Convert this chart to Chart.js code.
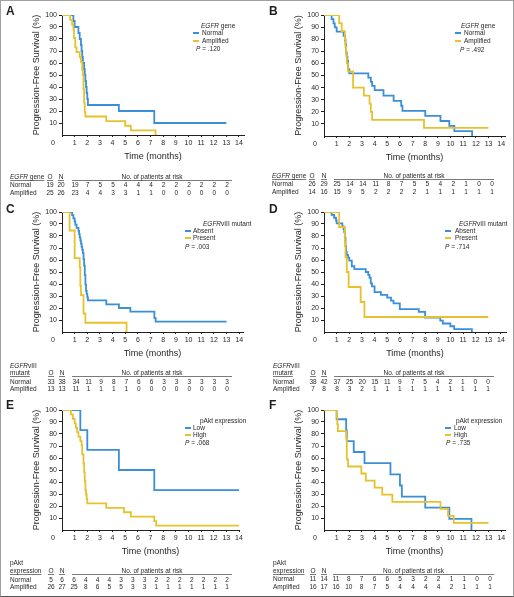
<!DOCTYPE html>
<html>
<head>
<meta charset="utf-8">
<script src="https://cdn.jsdelivr.net/npm/chart.js@4.4.0/dist/chart.umd.min.js"></script>
<style>
html, body { margin: 0; padding: 0; background: #fff; }
#fig { position: relative; width: 514px; height: 597px; overflow: hidden; }
#fig canvas { position: absolute; }
#frame { position: absolute; left: 0; top: 0; width: 514px; height: 597px; box-sizing: border-box;
  border: 1px solid #a0a0a0; border-bottom-color: #555; pointer-events: none; }
</style>
</head>
<body>
<div id="fig">
  <canvas id="cA" width="257" height="200" style="left:0;top:0"></canvas>
  <canvas id="cB" width="257" height="200" style="left:257px;top:0"></canvas>
  <canvas id="cC" width="257" height="200" style="left:0;top:195px"></canvas>
  <canvas id="cD" width="257" height="200" style="left:257px;top:195px"></canvas>
  <canvas id="cE" width="257" height="207" style="left:0;top:390px"></canvas>
  <canvas id="cF" width="257" height="207" style="left:257px;top:390px"></canvas>
  <div id="frame"></div>
</div>
<script>
// ---- data ----
const timeTicks = [0, 1, 2, 3, 4, 5, 6, 7, 8, 9, 10, 11, 12, 13, 14];
const survTicks = [10, 20, 30, 40, 50, 60, 70, 80, 90, 100];
const rowNames = ["Normal", "Amplified"];

// A - EGFR gene
const aNormT = [0, 0.9, 1.0, 1.3, 1.4, 1.5, 1.55, 1.6, 1.65, 1.75, 1.8, 1.85, 1.9, 1.95, 2.0, 2.05, 4.5, 7.3, 13];
const aNormS = [100, 95, 90, 85, 80, 75, 70, 65, 60, 55, 50, 45, 40, 35, 30, 25, 20, 10, 10];
const aAmpT = [0, 0.65, 0.8, 0.9, 0.95, 1.05, 1.15, 1.4, 1.5, 1.6, 1.65, 1.7, 1.75, 1.8, 1.85, 3.5, 5.0, 5.45, 7.4];
const aAmpS = [100, 96, 92, 88, 81, 73, 69, 65, 61, 54, 50, 38, 27, 19, 15.4, 11.5, 7.7, 3.8, 0];
const aNormRisk = [19, 7, 5, 5, 4, 4, 4, 2, 2, 2, 2, 2, 2];
const aAmpRisk = [23, 4, 4, 3, 3, 1, 1, 0, 0, 0, 0, 0, 0];
const aNormON = [19, 20];
const aAmpON = [25, 26];
const aP = ".120";

// B - EGFR gene
const bNormT = [0, 0.6, 0.75, 0.85, 1.0, 1.55, 1.65, 1.7, 1.75, 1.8, 1.85, 1.9, 2.0, 3.5, 3.7, 3.8, 4.0, 4.7, 5.5, 6.1, 6.2, 8.0, 9.2, 9.9, 10.3, 11.7];
const bNormS = [100, 96.6, 93.1, 89.7, 86.2, 82.8, 79.3, 75.9, 69, 65.5, 62, 55.2, 51.7, 48.3, 44.8, 41.4, 37.9, 33.3, 29, 25, 20.7, 16.6, 12.4, 8.3, 4.1, 0];
const bAmpT = [0, 1.2, 1.4, 1.65, 1.7, 1.75, 1.8, 1.9, 2.3, 3.15, 3.6, 3.7, 3.8, 7.9, 13];
const bAmpS = [100, 93.3, 86.7, 80, 73.3, 66.7, 60, 53.3, 40, 33.3, 26.7, 20, 13.3, 6.7, 6.7];
const bNormRisk = [25, 14, 14, 11, 8, 7, 5, 5, 4, 2, 1, 0, 0];
const bAmpRisk = [15, 9, 5, 2, 2, 2, 2, 1, 1, 1, 1, 1, 1];
const bNormON = [26, 29];
const bAmpON = [14, 16];
const bP = ".492";

// C - EGFRvIII mutant
const cAbsT = [0, 0.8, 0.9, 1.0, 1.05, 1.15, 1.3, 1.35, 1.4, 1.45, 1.5, 1.55, 1.6, 1.65, 1.7, 1.75, 1.8, 1.85, 1.9, 1.95, 2.0, 2.05, 3.5, 4.5, 5.4, 7.3, 7.4, 13];
const cAbsS = [100, 97.4, 94.7, 92.1, 89.5, 86.8, 84.2, 81.6, 78.9, 76.3, 73.7, 71, 68.4, 65.8, 60.5, 55.3, 47.4, 39.5, 34.2, 31.6, 28.9, 26.3, 23, 20, 17, 11.5, 8.6, 8.6];
const cPresT = [0, 0.6, 1.0, 1.4, 1.45, 1.5, 1.7, 1.85, 5.1];
const cPresS = [100, 84.6, 61.5, 53.8, 38.5, 30.8, 15.4, 7.7, 0];
const cNormRisk = [34, 11, 9, 8, 7, 6, 6, 3, 3, 3, 3, 3, 3];
const cAmpRisk = [11, 1, 1, 1, 1, 0, 0, 0, 0, 0, 0, 0, 0];
const cNormON = [33, 38];
const cAmpON = [13, 13];
const cP = ".003";

// D - EGFRvIII mutant
const dAbsT = [0, 0.6, 0.8, 0.95, 1.0, 1.45, 1.55, 1.6, 1.65, 1.7, 1.75, 1.8, 1.9, 2.0, 2.2, 2.4, 3.3, 3.5, 3.6, 3.7, 3.8, 4.0, 4.5, 5.0, 5.3, 5.5, 6.0, 7.5, 8.0, 9.2, 9.4, 10.0, 10.3, 11.7];
const dAbsS = [100, 97.6, 95.2, 92.9, 90.5, 88.1, 85.7, 83.3, 78.6, 71.4, 66.7, 64.3, 61.9, 59.5, 54.8, 52.4, 50, 47.6, 45.2, 40.5, 38.1, 33.3, 31, 28.6, 26.2, 23.8, 19, 16.7, 11.9, 9.5, 7.1, 4.8, 2.4, 0];
const dPresT = [0, 1.2, 1.65, 1.7, 1.8, 1.95, 2.9, 3.2, 13];
const dPresS = [100, 87.5, 75, 62.5, 50, 37.5, 25, 12.5, 12.5];
const dNormRisk = [37, 25, 20, 15, 11, 9, 7, 5, 4, 2, 1, 0, 0];
const dAmpRisk = [8, 3, 2, 1, 1, 1, 1, 1, 1, 1, 1, 1, 1];
const dNormON = [38, 42];
const dAmpON = [7, 8];
const dP = ".714";

// E - pAkt expression
const eLowT = [0, 1.45, 2.0, 4.5, 7.3, 14];
const eLowS = [100, 83.3, 66.7, 50, 33.3, 33.3];
const eHighT = [0, 0.7, 0.85, 1.0, 1.1, 1.2, 1.3, 1.45, 1.55, 1.6, 1.7, 1.75, 1.8, 1.85, 1.9, 1.95, 2.0, 3.5, 4.9, 5.45, 7.3, 7.45, 14];
const eHighS = [100, 96.3, 92.6, 88.9, 85.2, 81.5, 77.8, 74.1, 70.4, 63, 55.6, 48.1, 40.7, 33.3, 29.6, 25.9, 22.2, 18.5, 14.8, 11.1, 7.4, 3.7, 3.7];
const eNormRisk = [6, 4, 4, 4, 3, 3, 3, 2, 2, 2, 2, 2, 2, 2];
const eAmpRisk = [25, 8, 6, 5, 5, 3, 3, 1, 1, 1, 1, 1, 1, 1];
const eNormON = [5, 6];
const eAmpON = [26, 27];
const eP = ".068";

// F - pAkt expression
const fLowT = [0, 1.0, 1.75, 1.8, 2.35, 3.2, 5.25, 6.0, 6.15, 8.0, 9.9, 11.65];
const fLowS = [100, 92.3, 83, 74, 65, 55.7, 46.4, 37.1, 27.8, 18.6, 9.3, 0];
const fHighT = [0, 1.0, 1.05, 1.1, 1.75, 1.8, 1.9, 2.95, 3.3, 4.0, 4.6, 5.4, 9.2, 9.8, 10.25, 13];
const fHighS = [100, 94.1, 88.2, 82.4, 76.5, 58.8, 52.9, 47.1, 41.2, 35.3, 29.4, 23.5, 17.6, 11.8, 5.9, 5.9];
const fNormRisk = [11, 8, 7, 6, 6, 5, 3, 2, 2, 1, 1, 0, 0];
const fAmpRisk = [16, 10, 8, 7, 5, 4, 4, 4, 4, 2, 1, 1, 1];
const fNormON = [11, 14];
const fAmpON = [16, 17];
const fP = ".735";

// ---- styles ----
const FONT = '"Liberation Sans", Arial, sans-serif';
const INK = "#231f20";
const BLUE = "#3b8fd8";
const YELLOW = "#e5c22e";

function xy(t, s) {
  return t.map((v, i) => ({ x: v, y: s[i] }));
}

// draw text made of plain / italic pieces, returns end x
function rich(ctx, parts, x, y, size) {
  let cx = x;
  parts.forEach(([txt, it]) => {
    ctx.font = (it ? "italic " : "") + size + "px " + FONT;
    ctx.fillText(txt, cx, y);
    cx += ctx.measureText(txt).width;
  });
  return cx;
}

const kmPlugin = {
  id: "km",
  afterDraw(chart, args, o) {
    const ctx = chart.ctx;
    const ca = chart.chartArea;
    ctx.save();
    ctx.fillStyle = INK;
    ctx.strokeStyle = INK;
    ctx.textBaseline = "middle";

    // panel letter
    ctx.textAlign = "left";
    ctx.font = "bold 12px " + FONT;
    ctx.fillText(o.letter, o.letterX, o.letterY);

    // shared zero at the corner
    ctx.textAlign = "center";
    ctx.font = "7px " + FONT;
    ctx.fillText("0", ca.left - 9, ca.bottom + 8);

    // legend
    const lg = o.legend;
    ctx.textAlign = "left";
    rich(ctx, lg.title, lg.titleX, lg.titleY, 6.5);
    [BLUE, YELLOW].forEach((c, i) => {
      ctx.strokeStyle = c;
      ctx.lineWidth = 2;
      ctx.beginPath();
      ctx.moveTo(lg.lineX, lg.itemY[i]);
      ctx.lineTo(lg.lineX + 6, lg.itemY[i]);
      ctx.stroke();
      ctx.font = "6.5px " + FONT;
      ctx.fillText(lg.items[i], lg.textX, lg.itemY[i]);
    });
    rich(ctx, [["P", true], [" = " + o.p, false]], lg.pX, lg.pY, 6.5);

    // risk table
    const r = o.risk;
    ctx.strokeStyle = INK;
    ctx.lineWidth = 0.6;
    let ri = 0;
    if (r.head.length === 2) {
      rich(ctx, r.head[0], r.labelX, r.rows[0], 6.5);
      ri = 1;
    }
    const hy = r.rows[ri];
    const uy = hy + 3.5;
    const endL = rich(ctx, r.head[r.head.length - 1], r.labelX, hy, 6.5);
    const underline = (x1, x2) => {
      ctx.beginPath();
      ctx.moveTo(x1, uy);
      ctx.lineTo(x2, uy);
      ctx.stroke();
    };
    underline(r.labelX, endL);
    ctx.font = "6.5px " + FONT;
    ctx.textAlign = "center";
    ctx.fillText("O", r.oX, hy);
    ctx.fillText("N", r.nX, hy);
    underline(r.oX - 3, r.oX + 3);
    underline(r.nX - 3, r.nX + 3);
    ctx.fillText("No. of patients at risk", (r.lineX1 + r.lineX2) / 2, hy);
    underline(r.lineX1, r.lineX2);

    const body = [[o.normON, o.normRisk], [o.ampON, o.ampRisk]];
    body.forEach(([on, vals], k) => {
      const y = r.rows[ri + 1 + k];
      ctx.textAlign = "left";
      ctx.fillText(rowNames[k], r.labelX, y);
      ctx.textAlign = "center";
      ctx.fillText(String(on[0]), r.oX, y);
      ctx.fillText(String(on[1]), r.nX, y);
      const step = (r.lastX - r.firstX) / (vals.length - 1);
      vals.forEach((v, j) => ctx.fillText(String(v), r.firstX + j * step, y));
    });
    ctx.restore();
  }
};

function makePanel(id, g, series, extra) {
  const el = document.getElementById(id);
  const W = el.width, H = el.height;
  const xScaleH = 27;
  new Chart(el, {
    type: "line",
    data: {
      datasets: series.map(([t, s], i) => ({
        data: xy(t, s),
        borderColor: i === 0 ? BLUE : YELLOW,
        borderWidth: 1.8,
        pointRadius: 0,
        stepped: true,
        fill: false
      })).reverse()
    },
    options: {
      responsive: false,
      animation: false,
      events: [],
      layout: { padding: { left: 0, top: g.T, right: W - g.R, bottom: H - g.B - xScaleH } },
      scales: {
        x: {
          type: "linear",
          min: 0,
          max: g.xMax,
          afterBuildTicks: s => { s.ticks = timeTicks.map(v => ({ value: v })); },
          afterFit: s => { s.height = xScaleH; },
          grid: { drawOnChartArea: false, tickLength: 2, color: INK },
          border: { color: INK, width: 1 },
          ticks: {
            font: { family: FONT, size: 7 }, color: INK, padding: 2,
            maxRotation: 0, autoSkip: false,
            callback: v => (v === 0 ? "" : v)
          },
          title: {
            display: true, text: "Time (months)", color: INK,
            font: { family: FONT, size: 9 }, padding: { top: 0, bottom: 0 }
          }
        },
        y: {
          min: 0,
          max: 100,
          afterBuildTicks: s => { s.ticks = survTicks.map(v => ({ value: v })); },
          afterFit: s => { s.width = g.L; },
          grid: { drawOnChartArea: false, tickLength: 3, color: INK },
          border: { color: INK, width: 1 },
          ticks: { font: { family: FONT, size: 7 }, color: INK, padding: 2 },
          title: {
            display: true, text: "Progression-Free Survival (%)", color: INK,
            font: { family: FONT, size: 9 }, padding: { top: g.yTitle - 5.4, bottom: 0 }
          }
        }
      },
      plugins: {
        legend: { display: false },
        tooltip: { enabled: false },
        km: extra
      }
    },
    plugins: [kmPlugin]
  });
}

const egfrTitle = [["EGFR", true], [" gene", false]];
const vIIITitle = [["EGFR", true], ["vIII mutant", false]];
const aktTitle = [["pAkt expression", false]];

makePanel("cA", { L: 62, T: 15, B: 135, R: 244, xMax: 14.4, yTitle: 37 },
  [[aNormT, aNormS], [aAmpT, aAmpS]], {
    letter: "A", letterX: 6, letterY: 12, p: aP,
    normRisk: aNormRisk, ampRisk: aAmpRisk, normON: aNormON, ampON: aAmpON,
    legend: { title: egfrTitle, titleX: 201, titleY: 26, items: ["Normal", "Amplified"], itemY: [33, 41], lineX: 193, textX: 202, pX: 196, pY: 49 },
    risk: { head: [egfrTitle], rows: [177, 185, 193], labelX: 10, oX: 50, nX: 61, firstX: 75, lastX: 227, lineX1: 72, lineX2: 232 }
  });

makePanel("cB", { L: 67, T: 15, B: 136, R: 248, xMax: 14.3, yTitle: 42 },
  [[bNormT, bNormS], [bAmpT, bAmpS]], {
    letter: "B", letterX: 12, letterY: 12, p: bP,
    normRisk: bNormRisk, ampRisk: bAmpRisk, normON: bNormON, ampON: bAmpON,
    legend: { title: egfrTitle, titleX: 204, titleY: 26, items: ["Normal", "Amplified"], itemY: [33, 41], lineX: 198, textX: 207, pX: 203, pY: 50 },
    risk: { head: [egfrTitle], rows: [176, 184, 192], labelX: 15, oX: 55, nX: 67, firstX: 80, lastX: 235, lineX1: 77, lineX2: 237 }
  });

makePanel("cC", { L: 62, T: 17, B: 137, R: 243, xMax: 14.3, yTitle: 37 },
  [[cAbsT, cAbsS], [cPresT, cPresS]], {
    letter: "C", letterX: 6, letterY: 15, p: cP,
    normRisk: cNormRisk, ampRisk: cAmpRisk, normON: cNormON, ampON: cAmpON,
    legend: { title: vIIITitle, titleX: 203, titleY: 29, items: ["Absent", "Present"], itemY: [36, 43], lineX: 185, textX: 193, pX: 185, pY: 52 },
    risk: { head: [[["EGFR", true], ["vIII", false]], [["mutant", false]]], rows: [171, 178, 187, 194], labelX: 10, oX: 51, nX: 62, firstX: 76, lastX: 227, lineX1: 72, lineX2: 232 }
  });

makePanel("cD", { L: 67, T: 17, B: 137, R: 249, xMax: 14.4, yTitle: 42 },
  [[dAbsT, dAbsS], [dPresT, dPresS]], {
    letter: "D", letterX: 12, letterY: 15, p: dP,
    normRisk: dNormRisk, ampRisk: dAmpRisk, normON: dNormON, ampON: dAmpON,
    legend: { title: vIIITitle, titleX: 202, titleY: 29, items: ["Absent", "Present"], itemY: [36, 43], lineX: 188, textX: 198, pX: 188, pY: 52 },
    risk: { head: [[["EGFR", true], ["vIII", false]], [["mutant", false]]], rows: [171, 178, 187, 194], labelX: 16, oX: 56, nX: 67, firstX: 80, lastX: 231, lineX1: 77, lineX2: 237 }
  });

makePanel("cE", { L: 62, T: 20, B: 140, R: 239, xMax: 14, yTitle: 37 },
  [[eLowT, eLowS], [eHighT, eHighS]], {
    letter: "E", letterX: 6, letterY: 16, p: eP,
    normRisk: eNormRisk, ampRisk: eAmpRisk, normON: eNormON, ampON: eAmpON,
    legend: { title: aktTitle, titleX: 200, titleY: 31, items: ["Low", "High"], itemY: [38, 45], lineX: 185, textX: 193, pX: 185, pY: 53 },
    risk: { head: [[["pAkt", false]], [["expression", false]]], rows: [173, 181, 190, 197], labelX: 10, oX: 51, nX: 62, firstX: 74, lastX: 227, lineX1: 72, lineX2: 232 }
  });

makePanel("cF", { L: 67, T: 20, B: 140, R: 248, xMax: 14.3, yTitle: 42 },
  [[fLowT, fLowS], [fHighT, fHighS]], {
    letter: "F", letterX: 12, letterY: 16, p: fP,
    normRisk: fNormRisk, ampRisk: fAmpRisk, normON: fNormON, ampON: fAmpON,
    legend: { title: aktTitle, titleX: 199, titleY: 31, items: ["Low", "High"], itemY: [38, 45], lineX: 188, textX: 197, pX: 189, pY: 53 },
    risk: { head: [[["pAkt", false]], [["expression", false]]], rows: [173, 181, 189, 197], labelX: 16, oX: 56, nX: 67, firstX: 79, lastX: 233, lineX1: 76, lineX2: 237 }
  });
</script>
</body>
</html>
